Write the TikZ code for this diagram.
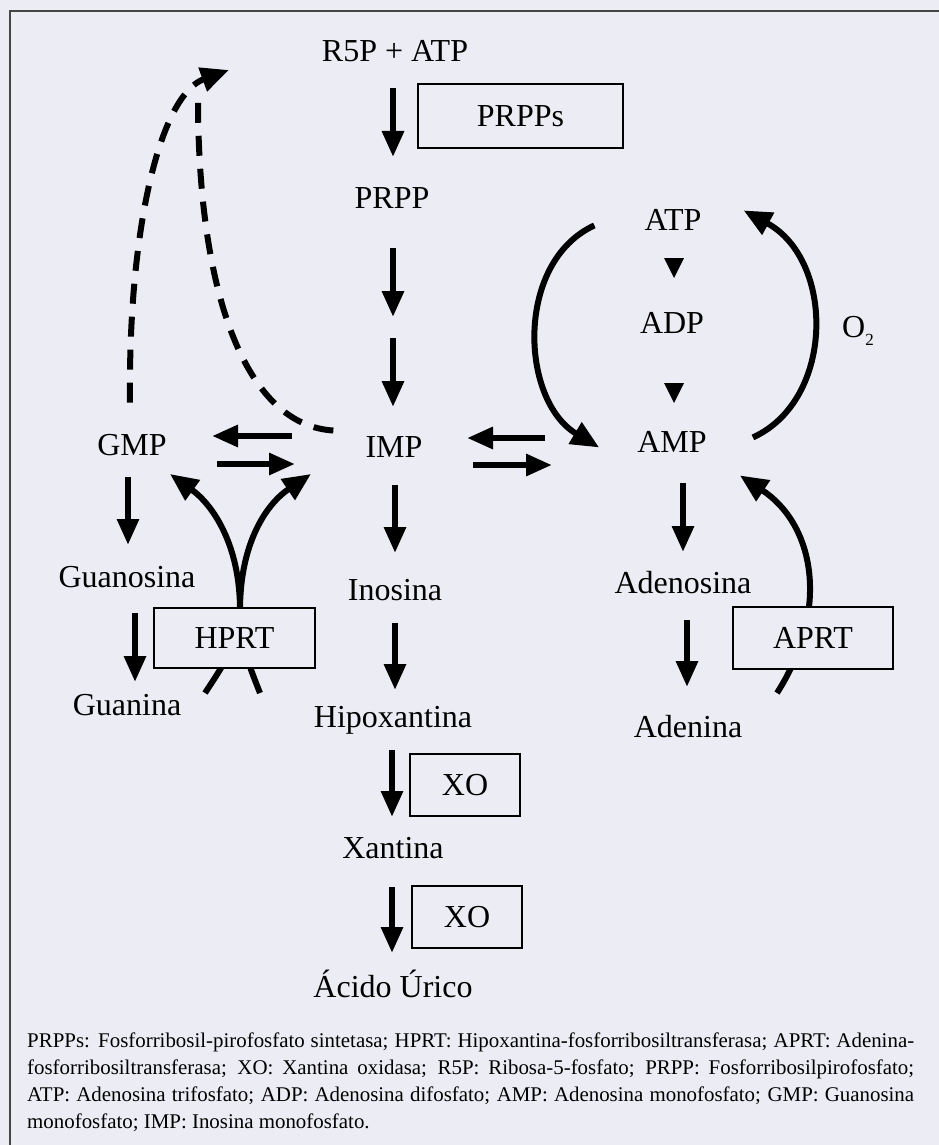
\documentclass[tikz,border=0pt]{standalone}
\usepackage{fontspec}
\setmainfont{Liberation Serif}
\usetikzlibrary{arrows.meta,calc}
\definecolor{bgc}{RGB}{236,236,244}
\definecolor{framec}{RGB}{70,70,70}
\begin{document}
\begin{tikzpicture}[x=1pt,y=-1pt,
  lbl/.style={font=\fontsize{32}{36}\selectfont, inner sep=0pt, anchor=base},
  arr/.style={line width=6pt, -{Triangle[length=26pt,width=21pt]}},
  curvearr/.style={line width=6pt, -{Triangle[length=28pt,width=24pt]}},
  dsh/.style={line width=6pt, dash pattern=on 20pt off 13pt},
  enz/.style={draw, line width=2.5pt, fill=bgc, inner sep=0pt,
    font=\fontsize{32}{36}\selectfont},
  tri/.style={fill=black}
]
\useasboundingbox (0,0) rectangle (939,1145);
\fill[bgc] (0,0) rectangle (939,1145);
\begin{scope}
\clip (0,0) rectangle (939,1145);
\draw[framec, line width=2pt] (10,1160) -- (10,11) -- (950,11);
\end{scope}

% ---- labels ----
\node[lbl] (R5P) at (395,62) {R5P + ATP};
\node[lbl] (PRPP) at (392,208) {PRPP};
\node[lbl] (IMP) at (394,457) {IMP};
\node[lbl] (GMP) at (132,455) {GMP};
\node[lbl] (Guo) at (127,587) {Guanosina};
\node[lbl] (Gua) at (127,715) {Guanina};
\node[lbl] (Ino) at (395,600) {Inosina};
\node[lbl] (Hyp) at (393,727) {Hipoxantina};
\node[lbl] (Xan) at (393,858) {Xantina};
\node[lbl] (Uric) at (393,997) {Ácido Úrico};
\node[lbl] (ATP) at (673,230) {ATP};
\node[lbl] (ADP) at (672,333) {ADP};
\node[lbl] (AMP) at (672,452) {AMP};
\node[lbl] (Ado) at (683,593) {Adenosina};
\node[lbl] (Ade) at (688,737) {Adenina};
\node[lbl, anchor=base west] (O2) at (842,337) {O\raisebox{-8pt}{\fontsize{17}{17}\selectfont 2}};

% ---- coordinates for curved connectors ----
\coordinate (dtop) at (229,70);
\coordinate (hfork) at (240,610);
\coordinate (hpl) at (205,693);
\coordinate (hpr) at (260,693);
\coordinate (apb) at (777,693);

% ---- dashed feedback arrows ----
\draw[dsh] (IMP.west) ++(-32,-16) .. controls +(-85,-5) and (197,300) .. (198,92);
\draw[dsh, -{Triangle[length=28pt,width=24pt]}] (GMP.north) ++(-2,-31) .. controls (128,230) and (160,95) .. (dtop);

% ---- main vertical arrows ----
\draw[arr] ($(R5P.base)+(-2,26)$) -- ($(PRPP.base)+(1,-51)$);
\draw[arr] ($(PRPP.base)+(1,40)$) -- ($(PRPP.base)+(1,109)$);
\draw[arr] ($(IMP.base)+(-1,-119)$) -- ($(IMP.base)+(-1,-50)$);
\draw[arr] ($(IMP.base)+(1,28)$) -- ($(Ino.base)+(0,-47)$);
\draw[arr] ($(Ino.base)+(0,23)$) -- ($(Hyp.base)+(2,-37)$);
\draw[arr] ($(Hyp.base)+(-1,23)$) -- ($(Xan.base)+(-1,-41)$);
\draw[arr] ($(Xan.base)+(-1,29)$) -- ($(Uric.base)+(-1,-44)$);
\draw[arr] ($(GMP.base)+(-4,22)$) -- ($(Guo.base)+(1,-42)$);
\draw[arr] ($(Guo.base)+(8,26)$) -- ($(Gua.base)+(8,-33)$);
\draw[arr] ($(AMP.base)+(11,31)$) -- ($(Ado.base)+(0,-41)$);
\draw[arr] ($(Ado.base)+(4,27)$) -- ($(Ade.base)+(-1,-50)$);

% ---- reversible horizontal arrows ----
\draw[arr] ($(IMP.base)+(-102,-21)$) -- ($(GMP.base)+(80,-19)$);
\draw[arr] ($(GMP.base)+(85,9)$) -- ($(IMP.base)+(-99,7)$);
\draw[arr] ($(AMP.base)+(-127,-14)$) -- ($(IMP.base)+(73,-19)$);
\draw[arr] ($(IMP.base)+(79,8)$) -- ($(AMP.base)+(-120,13)$);

% ---- ATP / ADP / AMP cycle ----
\fill[tri] ($(ATP.base)+(-9,28)$) -- ++(20,0) -- ++(-10,20) -- cycle;
\fill[tri] ($(ADP.base)+(-8,50)$) -- ++(20,0) -- ++(-10,20) -- cycle;
\draw[curvearr] ($(ATP.west)+(-50,6)$) .. controls (515,262) and (520,400) .. ($(AMP.west)+(-38,6)$);
\draw[curvearr] ($(AMP.east)+(46,-4)$) .. controls (835,400) and (835,260) .. ($(ATP.east)+(42,-9)$);

% ---- HPRT salvage ----
\draw[curvearr] (hpl) .. controls (230,655) .. (hfork) .. controls (240,545) and (265,505) .. (311,474);
\draw[curvearr] (hpr) .. controls (245,655) .. (hfork) .. controls (240,545) and (213,505) .. (170,474);
\node[enz, minimum width=161pt, minimum height=60pt] (HPRT) at (234.5,638) {HPRT};

% ---- APRT salvage ----
\draw[curvearr] (apb) .. controls (830,610) and (815,525) .. ($(AMP.east)+(33,34)$);
\node[enz, minimum width=160pt, minimum height=62pt] (APRT) at (813,638) {APRT};

% ---- other enzyme boxes ----
\node[enz, minimum width=205pt, minimum height=64pt] (PRPPs) at (520.5,116) {PRPPs};
\node[enz, minimum width=110pt, minimum height=62pt] (XO1) at (465,785) {XO};
\node[enz, minimum width=110pt, minimum height=62pt] (XO2) at (467,917) {XO};

% ---- caption ----
\node[anchor=base west, inner sep=0pt, text width=887pt, align=justify,
  font=\fontsize{20.9}{27}\selectfont]
  (cap) at (27,1047) {\tolerance=10000 \hbadness=10000 \hyphenpenalty=10000 \parindent=0pt PRPPs: Fosforribosil-pirofosfato sintetasa; HPRT: Hipoxantina-fosforribosiltransferasa; APRT: Adenina-\linebreak fosforribosiltransferasa; XO: Xantina oxidasa; R5P: Ribosa-5-fosfato; PRPP: Fosforribosilpirofosfato;\linebreak ATP: Adenosina trifosfato; ADP: Adenosina difosfato; AMP: Adenosina monofosfato; GMP: Guanosina\linebreak monofosfato; IMP: Inosina monofosfato.};
\end{tikzpicture}
\end{document}
